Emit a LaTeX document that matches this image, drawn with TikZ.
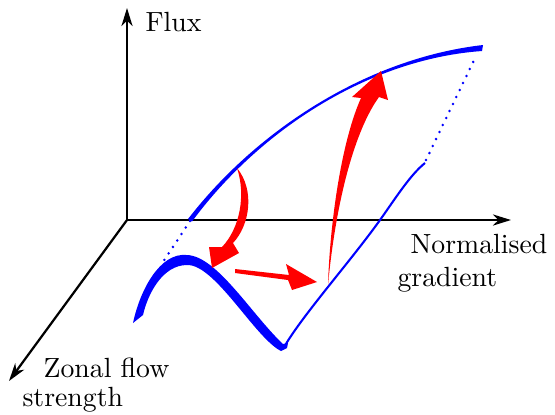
\documentclass[tikz,border=0pt]{standalone}
\usepackage{xcolor}
\usepackage{tikz}
\usetikzlibrary{arrows.meta}
\definecolor{branchblue}{HTML}{0000FF}
\definecolor{jumpred}{HTML}{FF0000}

\begin{document}
\begin{tikzpicture}[x=0.3604pt, y=-0.3604pt,
    axis/.style={line width=0.8pt, -{Stealth[length=6.5pt, width=4pt, inset=2pt]}},
    axislabel/.style={inner sep=0pt, align=left},
    branch/.style={fill=branchblue},
    dots/.style={draw=branchblue, line width=1pt, line cap=round, dash pattern=on 0pt off 2.8pt},
    jump/.style={fill=jumpred}]
  \useasboundingbox (0,0) rectangle (555,414);

  \coordinate (origin) at (127,220);
  \coordinate (fluxtip) at (127,8);
  \coordinate (gradtip) at (511,220);
  \coordinate (zonaltip) at (9,381);
  \draw[axis] (origin) -- (fluxtip);
  \draw[axis] (origin) -- (gradtip);
  \draw[axis] (origin) -- (zonaltip);

  \node[axislabel, anchor=base west] (flux) at (145,31) {Flux};
  \node[axislabel, anchor=north west] (grad) at (397,233.7) {\hspace*{4.7pt}Normalised\\gradient};
  \node[axislabel, anchor=north west] (zonal) at (22,357.7) {\hspace*{7.6pt}Zonal flow\\[-1.8pt]strength};

  % high flux branch
  \fill[branch] (188,219) .. controls (258,128.5) and (369,58) .. (483,45)
    -- (482,51) .. controls (369.5,59) and (260,129.5) .. (192,221.5) -- cycle;

  % low flux branch
  \fill[branch] (133,323) .. controls (140,290) and (160,252) .. (187,255)
    .. controls (217,256) and (252,315) .. (283,344) -- (288,343)
    -- (287,348) -- (281,351) .. controls (255,338) and (215,264) .. (187,265)
    .. controls (163,265) and (148,293) .. (143,315) -- cycle;
  \draw[branchblue, line width=0.75pt] (283,349) .. controls (300,318) and (350,262) .. (380,220)
    .. controls (395,199) and (410,175) .. (425,163);

  \draw[dots] (190,221) -- (163,262);
  \draw[dots] (426,160) -- (476,56);

  % transitions
  \fill[jump] (237,168) .. controls (255,190) and (250,225) .. (233,243)
    -- (239,253) -- (212,268) -- (209,247) -- (222,247)
    .. controls (240,228) and (246,195) .. (237,168) -- cycle;
  \fill[jump] (235,269) -- (289,275) -- (286,264) -- (317,282) -- (292,290) -- (288,280) -- (235,273) -- cycle;
  \fill[jump] (328,285) .. controls (330,220) and (342,140) .. (361,98)
    -- (352,97) -- (381,71) -- (388,100) -- (379,97)
    .. controls (355,130) and (336,200) .. (328,285) -- cycle;
\end{tikzpicture}
\end{document}
